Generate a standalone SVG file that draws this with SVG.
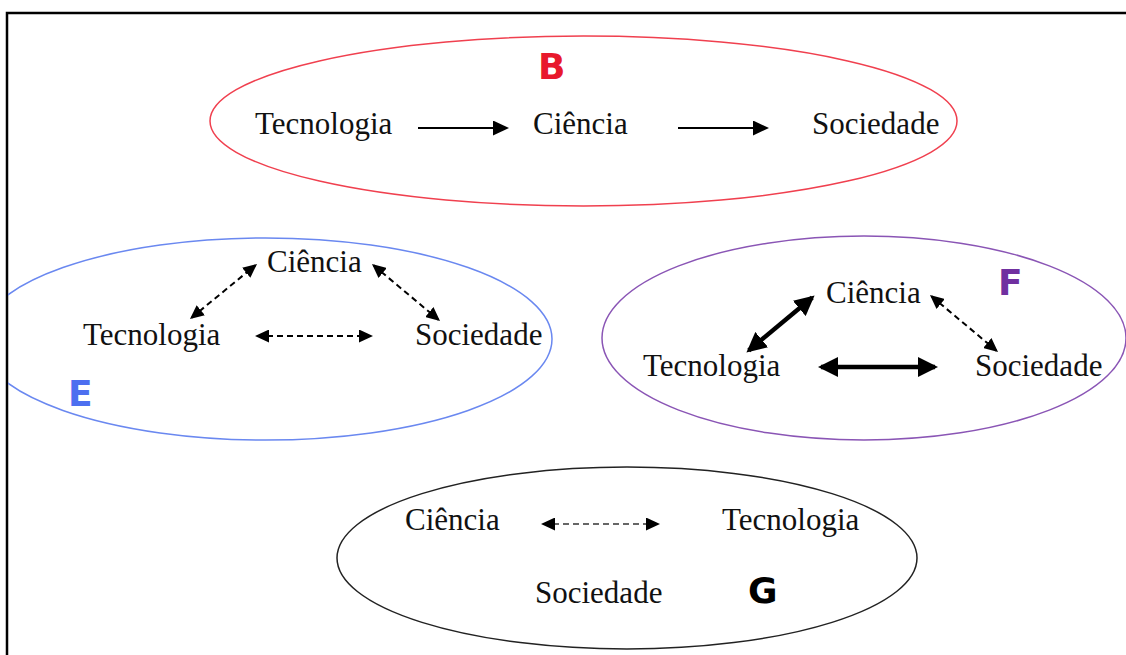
<svg xmlns="http://www.w3.org/2000/svg" width="1126" height="655" viewBox="0 0 1126 655">
<style>
.t{font-family:"Liberation Serif","Times New Roman",serif;font-size:31px;fill:#111}
.lbl{font-family:"DejaVu Sans","Verdana",sans-serif;font-weight:bold;font-size:36px}
.ln{stroke:#000;stroke-width:2;fill:none}
.dash{stroke:#000;stroke-width:2;stroke-dasharray:6 4;fill:none}
.dashg{stroke:#666;stroke-width:2;stroke-dasharray:6 4;fill:none}
.thick{stroke:#000;stroke-width:4.5;fill:none}
</style>
<defs>
<marker id="ah" markerUnits="userSpaceOnUse" markerWidth="16" markerHeight="15" refX="14" refY="7.5" orient="auto-start-reverse" viewBox="0 0 16 15">
<path d="M0,0 L16,7.5 L0,15 z" fill="#000"/>
</marker>
<marker id="ahs" markerUnits="userSpaceOnUse" markerWidth="14" markerHeight="13" refX="12" refY="6.5" orient="auto-start-reverse" viewBox="0 0 14 13">
<path d="M0,0 L14,6.5 L0,13 z" fill="#000"/>
</marker>
<marker id="ahb" markerUnits="userSpaceOnUse" markerWidth="20" markerHeight="20" refX="17" refY="10" orient="auto-start-reverse" viewBox="0 0 20 20">
<path d="M0,0 L20,10 L0,20 z" fill="#000"/>
</marker>
<clipPath id="frame"><rect x="8" y="14" width="1118" height="641"/></clipPath>
</defs>
<rect width="1126" height="655" fill="#fff"/>
<rect x="7" y="13" width="1130" height="660" fill="none" stroke="#000" stroke-width="2.5"/>

<g id="groupB">
<ellipse cx="583.5" cy="121" rx="373.5" ry="85" fill="none" stroke="#f0404f" stroke-width="1.5"/>
<text class="lbl" x="538" y="79" fill="#e8192c">B</text>
</g>
<g id="B-tecnologia"><text class="t" x="255" y="134">Tecnologia</text></g>
<g id="B-ciencia"><text class="t" x="533" y="134">Ciência</text></g>
<g id="B-sociedade"><text class="t" x="812" y="134">Sociedade</text></g>

<g id="groupE">
<ellipse cx="265.5" cy="339" rx="286.5" ry="101" fill="none" stroke="#6a88f0" stroke-width="1.5" clip-path="url(#frame)"/>
<text class="lbl" x="68" y="406" fill="#4d6ff0">E</text>
</g>
<g id="E-ciencia"><text class="t" x="267" y="272">Ciência</text></g>
<g id="E-tecnologia"><text class="t" x="83" y="345">Tecnologia</text></g>
<g id="E-sociedade"><text class="t" x="415" y="345">Sociedade</text></g>

<g id="groupF">
<ellipse cx="864" cy="338" rx="262" ry="102" fill="none" stroke="#8a55b5" stroke-width="1.5"/>
<text class="lbl" x="998" y="295" fill="#7030a0">F</text>
</g>
<g id="F-ciencia"><text class="t" x="826" y="303">Ciência</text></g>
<g id="F-tecnologia"><text class="t" x="643" y="376">Tecnologia</text></g>
<g id="F-sociedade"><text class="t" x="975" y="376">Sociedade</text></g>

<g id="groupG">
<ellipse cx="627" cy="558" rx="290" ry="91" fill="none" stroke="#222" stroke-width="1.5"/>
<text class="lbl" x="748" y="603" fill="#000">G</text>
</g>
<g id="G-ciencia"><text class="t" x="405" y="530">Ciência</text></g>
<g id="G-tecnologia"><text class="t" x="722" y="530">Tecnologia</text></g>
<g id="G-sociedade"><text class="t" x="535" y="603">Sociedade</text></g>

<g id="connectors">
<line class="ln" x1="418" y1="128" x2="507" y2="128" marker-end="url(#ah)"/>
<line class="ln" x1="678" y1="128" x2="767" y2="128" marker-end="url(#ah)"/>

<line class="dash" x1="191.5" y1="317.8" x2="255.5" y2="265.2" marker-start="url(#ahs)" marker-end="url(#ahs)"/>
<line class="dash" x1="373.5" y1="265.3" x2="438.5" y2="319.7" marker-start="url(#ahs)" marker-end="url(#ahs)"/>
<line class="dash" x1="257" y1="336" x2="371" y2="336" marker-start="url(#ahs)" marker-end="url(#ahs)"/>

<line class="thick" x1="748.7" y1="350.5" x2="812.3" y2="297.5" marker-start="url(#ahb)" marker-end="url(#ahb)"/>
<line class="thick" x1="821" y1="367" x2="935" y2="367" marker-start="url(#ahb)" marker-end="url(#ahb)"/>
<line class="dash" x1="931.5" y1="296.3" x2="996.5" y2="350.7" marker-start="url(#ahs)" marker-end="url(#ahs)"/>

<line class="dashg" x1="543" y1="524" x2="658" y2="524" marker-start="url(#ahs)" marker-end="url(#ahs)"/>
</g>
</svg>
